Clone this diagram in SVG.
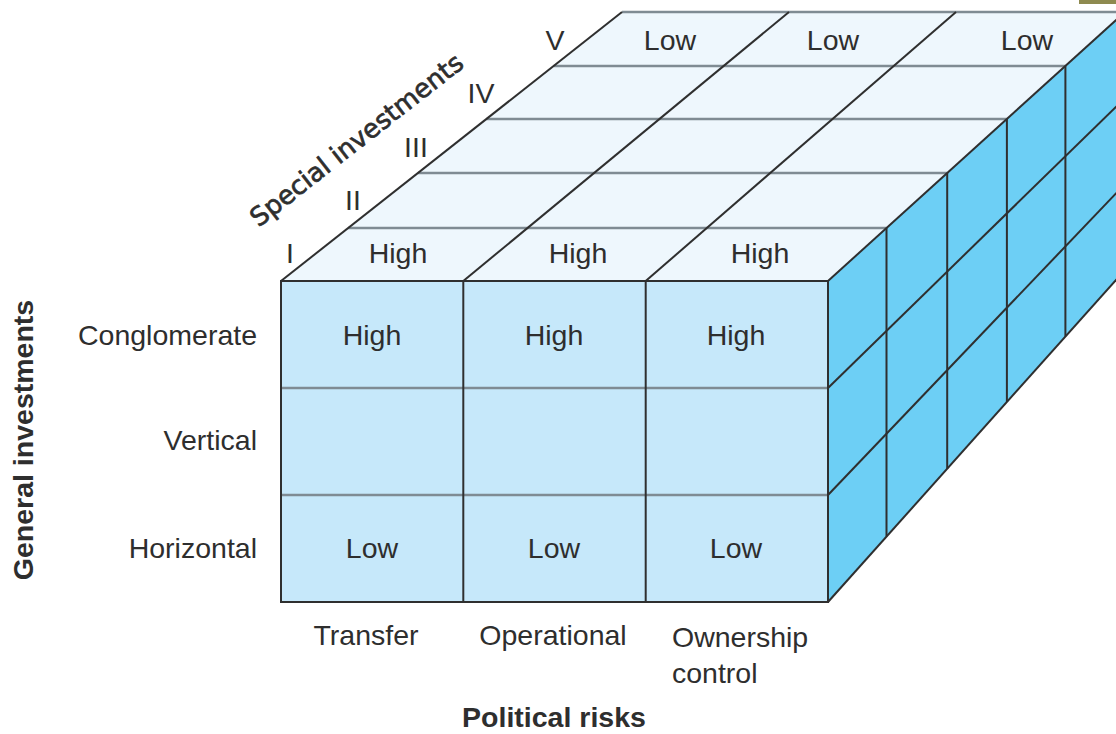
<svg xmlns="http://www.w3.org/2000/svg" width="1116" height="734" viewBox="0 0 1116 734">
<style>
.lbl{font-family:"Liberation Sans",Arial,sans-serif;font-size:28.5px;fill:#2e2e2e}
.mid{text-anchor:middle}
.end{text-anchor:end}
.bold{font-weight:bold}
.edge{stroke:#2f2f2f;stroke-width:2;fill:none}
.grid{stroke:#7f8b93;stroke-width:2.5;fill:none}
.verd{font-family:"DejaVu Sans",Verdana,sans-serif;font-size:26px;fill:#2e2e2e;stroke:#2e2e2e;stroke-width:0.7}
</style>
<rect width="1116" height="734" fill="#ffffff"/>
<rect x="1079" y="0" width="37" height="4" fill="#8e8a50"/>

<g id="top-face">
<polygon points="281,281 622,12 1125,12 828,281" fill="#eef7fd"/>
<g class="grid">
<line x1="348.2" y1="228" x2="886.5" y2="228"/>
<line x1="417.9" y1="173" x2="947.2" y2="173"/>
<line x1="486.4" y1="119" x2="1006.9" y2="119"/>
<line x1="553.5" y1="66" x2="1065.4" y2="66"/>
<line x1="622" y1="12" x2="1125" y2="12"/>
</g>
<g class="edge">
<line x1="281" y1="281" x2="622" y2="12"/>
<line x1="463.3" y1="281" x2="789" y2="12"/>
<line x1="645.7" y1="281" x2="956" y2="12"/>
</g>
</g>

<g id="right-face">
<polygon points="828,281 1125,12 1125,270 828,602" fill="#6dcff5"/>
<g class="edge">
<line x1="886.5" y1="228" x2="886.5" y2="536.6"/>
<line x1="947.2" y1="173" x2="947.2" y2="468.8"/>
<line x1="1006.9" y1="119" x2="1006.9" y2="402"/>
<line x1="1065.4" y1="66" x2="1065.4" y2="336.6"/>
<line x1="828" y1="388" x2="1125" y2="98"/>
<line x1="828" y1="495" x2="1125" y2="184"/>
<line x1="828" y1="281" x2="1125" y2="12"/>
<line x1="828" y1="602" x2="1125" y2="270"/>
</g>
</g>

<g id="front-face">
<rect x="281" y="281" width="547" height="321" fill="#c6e8fa"/>
<g class="grid">
<line x1="281" y1="388" x2="828" y2="388"/>
<line x1="281" y1="495" x2="828" y2="495"/>
</g>
<g class="edge">
<line x1="463.3" y1="281" x2="463.3" y2="602"/>
<line x1="645.7" y1="281" x2="645.7" y2="602"/>
<rect x="281" y="281" width="547" height="321"/>
</g>
</g>

<g id="cell-labels" class="lbl mid">
<text x="372" y="345">High</text>
<text x="554" y="345">High</text>
<text x="736" y="345">High</text>
<text x="372" y="558">Low</text>
<text x="554" y="558">Low</text>
<text x="736" y="558">Low</text>
<text x="398" y="263">High</text>
<text x="578" y="263">High</text>
<text x="760" y="263">High</text>
<text x="670" y="50">Low</text>
<text x="833" y="50">Low</text>
<text x="1027" y="50">Low</text>
</g>

<g id="special-axis">
<g class="lbl mid">
<text x="290" y="263">I</text>
<text x="353" y="210">II</text>
<text x="416" y="157">III</text>
<text x="481" y="103">IV</text>
<text x="555" y="50">V</text>
</g>
<text class="verd mid" transform="translate(362,147) rotate(-38)">Special investments</text>
</g>

<g id="general-axis">
<g class="lbl end">
<text x="257" y="345">Conglomerate</text>
<text x="257" y="450">Vertical</text>
<text x="257" y="558">Horizontal</text>
</g>
<text class="lbl mid bold" transform="translate(33,440) rotate(-90)">General investments</text>
</g>

<g id="political-axis">
<g class="lbl mid">
<text x="366" y="645">Transfer</text>
<text x="553" y="645">Operational</text>
</g>
<g class="lbl">
<text x="672" y="647">Ownership</text>
<text x="672" y="683">control</text>
</g>
<text class="lbl mid bold" x="554" y="727">Political risks</text>
</g>
</svg>
